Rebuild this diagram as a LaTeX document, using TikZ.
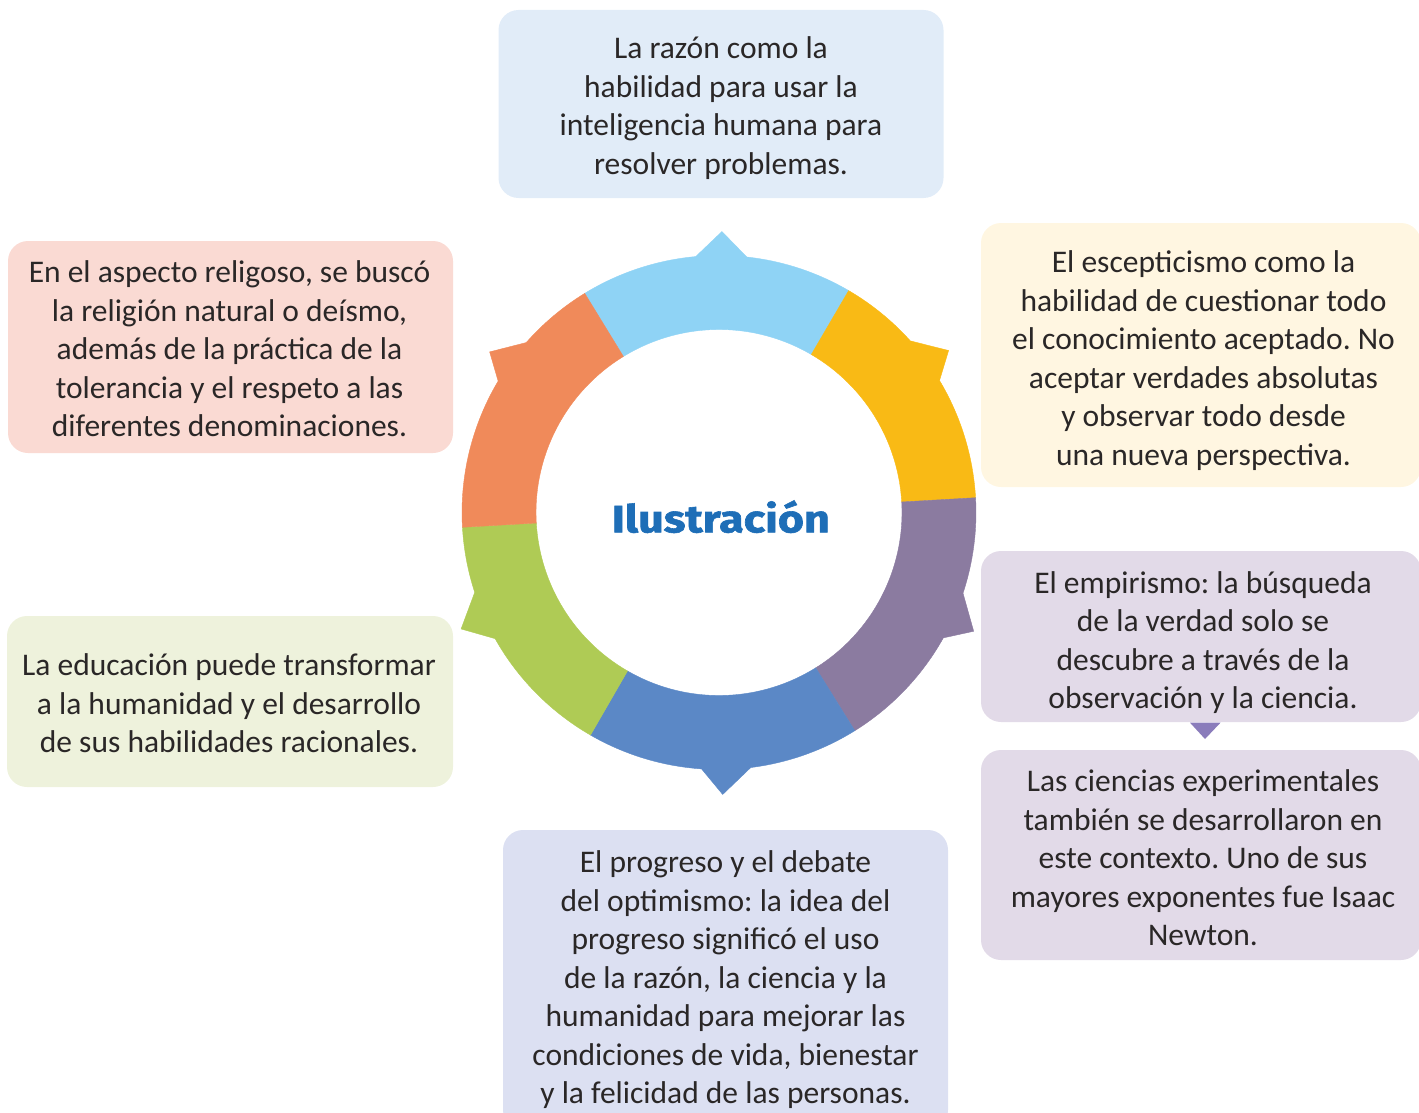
\documentclass[tikz,border=0pt]{standalone}
\usepackage{fontspec}
\setmainfont{Carlito}
\newfontfamily\titlefont[BoldFeatures={FakeBold=1.5}]{Fira Sans}
\usepackage{graphicx}
\definecolor{txt}{HTML}{2A2727}
\definecolor{boxblue}{HTML}{E1ECF8}
\definecolor{boxpink}{HTML}{FADAD3}
\definecolor{boxcream}{HTML}{FFF6E1}
\definecolor{boxgreen}{HTML}{EEF2DC}
\definecolor{boxlav}{HTML}{E2DAE8}
\definecolor{boxperi}{HTML}{DCE0F2}
\definecolor{segA}{HTML}{8FD3F5}
\definecolor{segB}{HTML}{F9BA15}
\definecolor{segC}{HTML}{8B7BA0}
\definecolor{segD}{HTML}{5B88C6}
\definecolor{segE}{HTML}{AFCB55}
\definecolor{segF}{HTML}{F08A5A}
\definecolor{titleblue}{HTML}{1E6EB7}
\definecolor{tri}{HTML}{8A7CBB}
\begin{document}
\frenchspacing
\begin{tikzpicture}[x=1pt,y=-1pt,
  infobox/.style={rounded corners=20pt, inner sep=0pt, minimum width=445pt},
  infotext/.style={inner sep=0pt, align=center,
    font=\fontsize{31.5}{38.5}\selectfont, text=txt},
  seg/.style={line width=0.4pt}
]
\useasboundingbox (0,0) rectangle (1419,1113);
% boxes
\node[infobox, fill=boxblue, minimum height=188pt] (top) at (721,104) {};
\node[infobox, fill=boxpink, minimum height=212pt] (relig) at (230.5,347) {};
\node[infobox, fill=boxcream, minimum width=440pt, minimum height=264pt] (escep) at (1201,355) {};
\node[infobox, fill=boxgreen, minimum width=446pt, minimum height=171pt] (educ) at (230,701.5) {};
\node[infobox, fill=boxlav, minimum width=440pt, minimum height=171pt] (empir) at (1201,636.5) {};
\node[infobox, fill=boxlav, minimum width=440pt, minimum height=210pt] (cienc) at (1201,855) {};
\node[infobox, fill=boxperi, minimum height=300pt] (progr) at (725.5,980) {};
% texts
\node[infotext] (topt) at ([yshift=-4pt]top.center)
  {La razón como la\\habilidad para usar la\\inteligencia humana para\\resolver problemas.};
\node[infotext] (religt) at ([xshift=-1pt,yshift=-2pt]relig.center)
  {En el aspecto religoso, se buscó\\la religión natural o deísmo,\\además de la práctica de la\\tolerancia y el respeto a las\\diferentes denominaciones.};
\node[infotext] (esceptt) at ([xshift=2.5pt,yshift=-5.5pt]escep.center)
  {El escepticismo como la\\habilidad de cuestionar todo\\el conocimiento aceptado. No\\aceptar verdades absolutas\\y observar todo desde\\una nueva perspectiva.};
\node[infotext] (eductt) at ([xshift=-1pt,yshift=-2pt]educ.center)
  {La educación puede transformar\\a la humanidad y el desarrollo\\de sus habilidades racionales.};
\node[infotext] (empirt) at ([xshift=2pt,yshift=-6pt]empir.center)
  {El empirismo: la búsqueda\\de la verdad solo se\\descubre a través de la\\observación y la ciencia.};
\node[infotext] (cienct) at ([xshift=2pt,yshift=-3pt]cienc.center)
  {Las ciencias experimentales\\también se desarrollaron en\\este contexto. Uno de sus\\mayores exponentes fue Isaac\\Newton.};
\node[infotext] (progrt) at (progr.center)
  {El progreso y el debate\\del optimismo: la idea del\\progreso significó el uso\\de la razón, la ciencia y la\\humanidad para mejorar las\\condiciones de vida, bienestar\\y la felicidad de las personas.};
% small connector triangle
\coordinate (tl) at (1190,722.7);
\coordinate (tr) at (1220.5,722.7);
\coordinate (tp) at (1205,739);
\fill[tri] (tl) -- (tr) -- (tp) -- cycle;
% ring
\begin{scope}[shift={(719,512.5)}, yscale=-1]
\filldraw[seg, fill=segA, draw=segA] (59.7:257) arc[start angle=59.7, end angle=83.8, radius=257] -- (89.4:281) -- (95.2:257)
  arc[start angle=95.2, end angle=121.5, radius=257] -- (121.5:183) arc[start angle=121.5, end angle=59.7, radius=183] -- cycle;
\filldraw[seg, fill=segB, draw=segB] (3.3:257) arc[start angle=3.3, end angle=30.9, radius=257] -- (35.2:281) -- (41.9:257)
  arc[start angle=41.9, end angle=59.7, radius=257] -- (59.7:183) arc[start angle=59.7, end angle=3.3, radius=183] -- cycle;
\filldraw[seg, fill=segC, draw=segC] (-58.1:257) arc[start angle=-58.1, end angle=-29.2, radius=257] -- (-25:281) -- (-18.3:257)
  arc[start angle=-18.3, end angle=3.3, radius=257] -- (3.3:183) arc[start angle=3.3, end angle=-58.1, radius=183] -- cycle;
\filldraw[seg, fill=segD, draw=segD] (240:257) arc[start angle=240, end angle=266.1, radius=257] -- (270.75:282) -- (277.1:257)
  arc[start angle=277.1, end angle=301.9, radius=257] -- (301.9:183) arc[start angle=301.9, end angle=240, radius=183] -- cycle;
\filldraw[seg, fill=segE, draw=segE] (183.3:257) arc[start angle=183.3, end angle=198.1, radius=257] -- (204.3:283) -- (209.4:257)
  arc[start angle=209.4, end angle=240, radius=257] -- (240:183) arc[start angle=240, end angle=183.3, radius=183] -- cycle;
\filldraw[seg, fill=segF, draw=segF] (121.5:257) arc[start angle=121.5, end angle=138.6, radius=257] -- (145:280) -- (149.25:257)
  arc[start angle=149.25, end angle=183.3, radius=257] -- (183.3:183) arc[start angle=183.3, end angle=121.5, radius=183] -- cycle;
\end{scope}
\node[inner sep=0pt, text=titleblue] (title) at (720.8,516.7)
  {\resizebox{218pt}{32pt}{\titlefont\bfseries Ilustración}};
\end{tikzpicture}
\end{document}
